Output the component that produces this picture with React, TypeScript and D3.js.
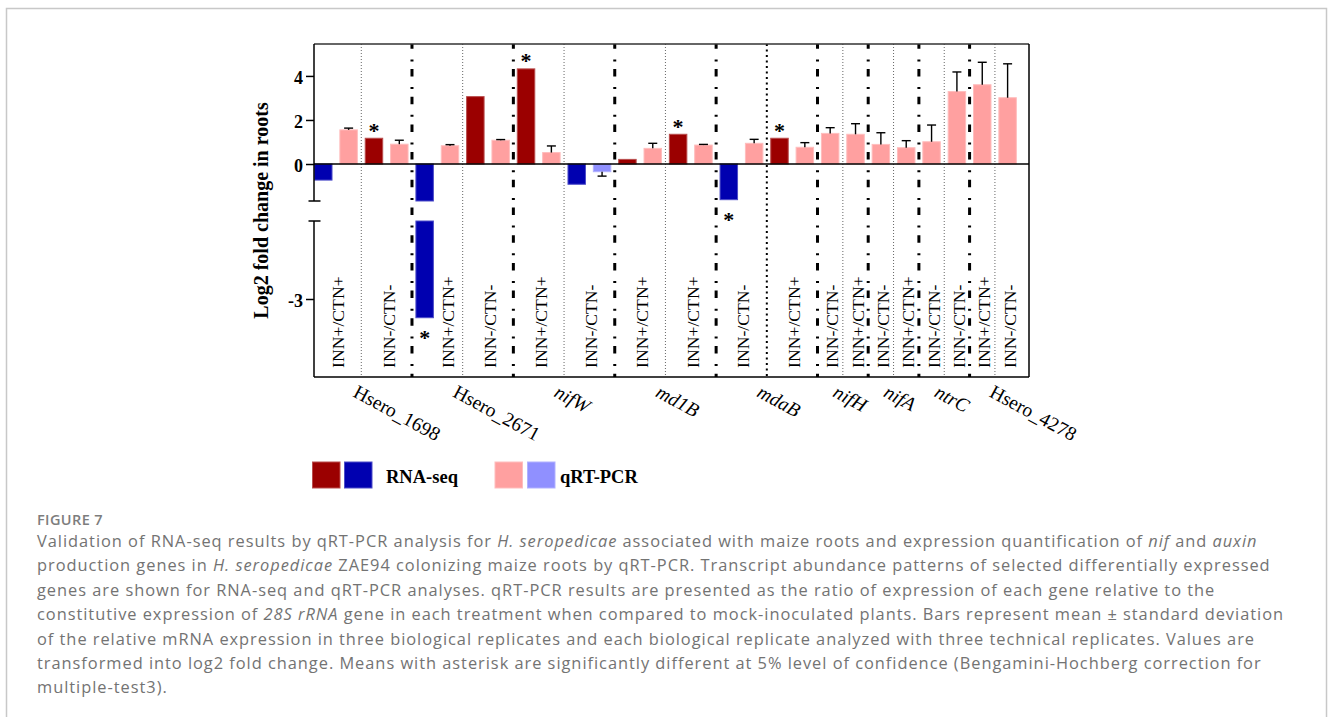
import { useEffect, useRef } from 'react'
import * as d3 from 'd3'

// gene groups along the x axis
const genes = ['Hsero_1698', 'Hsero_2671', 'nifW', 'md1B', 'mdaB', 'nifH', 'nifA', 'ntrC', 'Hsero_4278']
const geneItalic = [false, false, true, true, true, true, true, true, false]

// treatment labels for each gene
const treatments = [
  ['INN+/CTN+', 'INN-/CTN-'],
  ['INN+/CTN+', 'INN-/CTN-'],
  ['INN+/CTN+', 'INN-/CTN-'],
  ['INN+/CTN+', 'INN+/CTN+'],
  ['INN-/CTN-', 'INN+/CTN+'],
  ['INN-/CTN-', 'INN+/CTN+'],
  ['INN-/CTN-', 'INN+/CTN+'],
  ['INN-/CTN-', 'INN-/CTN-'],
  ['INN+/CTN+', 'INN-/CTN-'],
]

// log2 fold change, one entry per treatment (null = no RNA-seq value)
const rnaSeq = [-0.73, 1.17, -3.24, 3.06, 4.32, -0.92, 0.21, 1.35, -1.62, 1.17, null, null, null, null, null, null, null, null]
const rnaSeqSig = [false, true, true, false, true, false, false, true, true, true, false, false, false, false, false, false, false, false]
const qpcr = [1.55, 0.9, 0.83, 1.08, 0.52, -0.35, 0.71, 0.86, 0.94, 0.76, 1.39, 1.35, 0.89, 0.74, 1.01, 3.29, 3.6, 3.01]
const qpcrSd = [0.08, 0.18, 0.05, 0.03, 0.3, 0.2, 0.23, 0.03, 0.18, 0.21, 0.26, 0.48, 0.53, 0.32, 0.76, 0.89, 1.02, 1.54]

const yTicksTop = [0, 2, 4]
const yTicksBottom = [-3]

const caption: [string, boolean][][] = [
  [['Validation of RNA-seq results by qRT-PCR analysis for ', false], ['H. seropedicae', true], [' associated with maize roots and expression quantification of ', false], ['nif', true], [' and ', false], ['auxin', true]],
  [['production genes in ', false], ['H. seropedicae', true], [' ZAE94 colonizing maize roots by qRT-PCR. Transcript abundance patterns of selected differentially expressed', false]],
  [['genes are shown for RNA-seq and qRT-PCR analyses. qRT-PCR results are presented as the ratio of expression of each gene relative to the', false]],
  [['constitutive expression of ', false], ['28S rRNA', true], [' gene in each treatment when compared to mock-inoculated plants. Bars represent mean \u00b1 standard deviation', false]],
  [['of the relative mRNA expression in three biological replicates and each biological replicate analyzed with three technical replicates. Values are', false]],
  [['transformed into log2 fold change. Means with asterisk are significantly different at 5% level of confidence (Bengamini-Hochberg correction for', false]],
  [['multiple-test3).', false]],
]

const COLORS = { rnaUp: '#9b0000', rnaDown: '#0000b0', qUp: '#ffa0a0', qDown: '#9090ff' }
const SERIF = '"Liberation Serif", "Times New Roman", serif'
const SANS = '"Open Sans", "Noto Sans", sans-serif'

export default function App() {
  const ref = useRef<SVGSVGElement>(null)

  useEffect(() => {
    if (!ref.current) return
    const svg = d3.select(ref.current)
    svg.selectAll('*').remove()

    const plot = { left: 314, right: 1029, top: 44, bottom: 377, breakTop: 201, breakBottom: 221 }

    // figure frame
    svg.append('rect')
      .attr('x', 6.5).attr('y', 8.5).attr('width', 1320).attr('height', 760)
      .attr('fill', 'none').attr('stroke', '#c8c8c8').attr('stroke-width', 1.5)

    // build treatments + bar slots
    type Sub = { gene: number; label: string; rna: number | null; sig: boolean; q: number; sd: number; slots: number[] }
    const subs: Sub[] = []
    let t = 0
    genes.forEach((g, gi) => {
      treatments[gi].forEach(label => {
        subs.push({ gene: gi, label, rna: rnaSeq[t], sig: rnaSeqSig[t], q: qpcr[t], sd: qpcrSd[t], slots: [] })
        t++
      })
    })
    type Slot = { sub: number; kind: 'rna' | 'q'; v: number; sd: number; sig: boolean }
    const slots: Slot[] = []
    subs.forEach((s, si) => {
      if (s.rna !== null) {
        s.slots.push(slots.length)
        slots.push({ sub: si, kind: 'rna', v: s.rna, sd: 0, sig: s.sig })
      }
      s.slots.push(slots.length)
      slots.push({ sub: si, kind: 'q', v: s.q, sd: s.sd, sig: false })
    })

    const x = d3.scaleBand<number>()
      .domain(d3.range(slots.length))
      .range([plot.left, plot.right])
      .paddingInner(0.31)
      .paddingOuter(0.26)
      .align(0.04)
    const bw = x.bandwidth()
    const cx = (i: number) => (x(i) as number) + bw / 2

    const yTop = d3.scaleLinear().domain([-1.68, 5.45]).range([plot.breakTop, plot.top])
    const yBot = d3.scaleLinear().domain([-4, -2]).range([plot.bottom, plot.breakBottom])
    const topMin = yTop.domain()[0]
    const yAny = (v: number) => (v >= topMin ? yTop(v) : yBot(v))

    // dividers between treatments
    const divs: { x: number; gene: boolean; heavy: boolean }[] = []
    for (let i = 0; i < subs.length - 1; i++) {
      const a = subs[i], b = subs[i + 1]
      const xm = ((x(a.slots[a.slots.length - 1]) as number) + bw + (x(b.slots[0]) as number)) / 2
      divs.push({ x: xm, gene: a.gene !== b.gene, heavy: a.gene === b.gene && genes[a.gene] === 'mdaB' })
    }

    const divG = svg.append('g')
    divs.forEach(d => {
      const l = divG.append('line')
        .attr('x1', d.x).attr('x2', d.x).attr('y1', plot.top).attr('y2', plot.bottom)
      if (d.gene) {
        l.attr('stroke', '#000').attr('stroke-width', 3).attr('stroke-dasharray', '7.5 10.6 2 7.6').attr('stroke-dashoffset', 2.7)
      } else if (d.heavy) {
        l.attr('stroke', '#000').attr('stroke-width', 2).attr('stroke-dasharray', '2 3.5')
      } else {
        l.attr('stroke', '#666').attr('stroke-width', 1).attr('stroke-dasharray', '1 2')
      }
    })

    // bars
    const barColor = (s: Slot) => s.kind === 'rna'
      ? (s.v >= 0 ? COLORS.rnaUp : COLORS.rnaDown)
      : (s.v >= 0 ? COLORS.qUp : COLORS.qDown)
    const segs = (v: number): [number, number][] => {
      if (v >= topMin) return [[yTop(Math.max(v, 0)), yTop(Math.min(v, 0))]]
      return [[yTop(0), plot.breakTop], [plot.breakBottom, yBot(v)]]
    }
    const barG = svg.append('g')
    slots.forEach((s, i) => {
      const c = barColor(s)
      segs(s.v).forEach(([y1, y2]) => {
        barG.append('rect')
          .attr('x', x(i) as number).attr('y', y1)
          .attr('width', bw).attr('height', Math.max(0, y2 - y1))
          .attr('fill', c)
          .attr('stroke', d3.interpolateRgb(c, '#fff')(0.3))
          .attr('stroke-width', 1)
      })
    })

    // error bars (one-sided, away from zero)
    const errG = svg.append('g').attr('stroke', '#000').attr('stroke-width', 1.4)
    slots.forEach((s, i) => {
      if (!s.sd) return
      const end = s.v + Math.sign(s.v) * s.sd
      errG.append('line').attr('x1', cx(i)).attr('x2', cx(i)).attr('y1', yTop(s.v)).attr('y2', yTop(end))
      errG.append('line').attr('x1', cx(i) - 4.5).attr('x2', cx(i) + 4.5).attr('y1', yTop(end)).attr('y2', yTop(end))
    })

    // significance stars
    slots.forEach((s, i) => {
      if (!s.sig) return
      const yb = s.v > 0 ? yAny(s.v) - 0.5 : yAny(s.v) + 27
      svg.append('text')
        .attr('x', cx(i)).attr('y', yb)
        .attr('text-anchor', 'middle')
        .style('font-family', SERIF).style('font-weight', 'bold').style('font-size', '22px')
        .text('*')
    })

    // frame + broken y axis
    const frame = svg.append('g').attr('stroke', '#000').attr('stroke-width', 1.5).attr('fill', 'none')
    frame.append('line').attr('x1', plot.left).attr('x2', plot.right).attr('y1', plot.top).attr('y2', plot.top).attr('stroke', '#333')
    frame.append('line').attr('x1', plot.right).attr('x2', plot.right).attr('y1', plot.top).attr('y2', plot.bottom)
    frame.append('line').attr('x1', plot.left).attr('x2', plot.right).attr('y1', plot.bottom).attr('y2', plot.bottom)
    frame.append('line').attr('x1', plot.left).attr('x2', plot.right).attr('y1', yTop(0)).attr('y2', yTop(0))
    frame.append('line').attr('x1', plot.left).attr('x2', plot.left).attr('y1', plot.top).attr('y2', plot.breakTop)
    frame.append('line').attr('x1', plot.left).attr('x2', plot.left).attr('y1', plot.breakBottom).attr('y2', plot.bottom)
    frame.append('line').attr('x1', plot.left - 5.5).attr('x2', plot.left + 6.5).attr('y1', plot.breakTop).attr('y2', plot.breakTop)
    frame.append('line').attr('x1', plot.left - 5.5).attr('x2', plot.left + 6.5).attr('y1', plot.breakBottom).attr('y2', plot.breakBottom)

    const styleAxis = (g: d3.Selection<SVGGElement, unknown, null, undefined>) => {
      g.select('.domain').remove()
      g.selectAll('line').attr('stroke', '#000').attr('stroke-width', 1.5)
      g.selectAll('text')
        .attr('dy', '0.42em')
        .style('font-family', SERIF).style('font-weight', 'bold').style('font-size', '18px').attr('fill', '#000')
    }
    const fmt = (d: d3.NumberValue) => String(d)
    svg.append('g').attr('transform', `translate(${plot.left},0)`)
      .call(d3.axisLeft(yTop).tickValues(yTicksTop).tickFormat(fmt).tickSize(8).tickPadding(3))
      .call(styleAxis)
    svg.append('g').attr('transform', `translate(${plot.left},0)`)
      .call(d3.axisLeft(yBot).tickValues(yTicksBottom).tickFormat(fmt).tickSize(8).tickPadding(3))
      .call(styleAxis)

    // y title
    svg.append('text')
      .attr('transform', `translate(268,${(plot.top + plot.bottom) / 2}) rotate(-90)`)
      .attr('text-anchor', 'middle')
      .style('font-family', SERIF).style('font-weight', 'bold').style('font-size', '20px')
      .text('Log2 fold change in roots')

    // treatment labels inside the plot
    subs.forEach(s => {
      const deep = s.rna !== null && s.rna < topMin
      const lx = deep ? cx(s.slots[s.slots.length - 1]) - 1.5 : d3.mean(s.slots, cx)! + 2
      svg.append('text')
        .attr('transform', `translate(${lx},368) rotate(-90)`)
        .attr('dominant-baseline', 'central')
        .style('font-family', SERIF).style('font-size', '17.7px')
        .text(s.label)
    })

    // gene labels under the axis
    genes.forEach((g, gi) => {
      const mine = subs.filter(s => s.gene === gi)
      const first = mine[0].slots[0]
      const lastSub = mine[mine.length - 1]
      const last = lastSub.slots[lastSub.slots.length - 1]
      const gap = x.step() - bw
      const left = gi === 0 ? plot.left : (x(first) as number) - gap / 2
      const right = gi === genes.length - 1 ? plot.right : (x(last) as number) + bw + gap / 2
      const gc = (left + right) / 2
      svg.append('text')
        .attr('transform', `translate(${gc - 11},396) rotate(28.5)`)
        .style('font-family', SERIF).style('font-size', '19.5px')
        .style('font-style', geneItalic[gi] ? 'italic' : 'normal')
        .text(g)
    })

    // legend
    const leg = svg.append('g')
    const sw = (lx: number, c: string) => leg.append('rect')
      .attr('x', lx).attr('y', 462).attr('width', 27.5).attr('height', 26)
      .attr('fill', c).attr('stroke', d3.interpolateRgb(c, '#fff')(0.3)).attr('stroke-width', 1)
    sw(312.5, COLORS.rnaUp)
    sw(344.5, COLORS.rnaDown)
    sw(495, COLORS.qUp)
    sw(527.5, COLORS.qDown)
    leg.append('text').attr('x', 386).attr('y', 483)
      .style('font-family', SERIF).style('font-weight', 'bold').style('font-size', '18.5px').text('RNA-seq')
    leg.append('text').attr('x', 560).attr('y', 483)
      .style('font-family', SERIF).style('font-weight', 'bold').style('font-size', '18.5px').text('qRT-PCR')

    // caption
    svg.append('text').attr('x', 37).attr('y', 525)
      .style('font-family', SANS).style('font-size', '14.5px').style('font-weight', 600)
      .style('letter-spacing', '0.4px')
      .attr('fill', '#7d7d7d').text('FIGURE 7')
    caption.forEach((line, li) => {
      const tx = svg.append('text').attr('x', 37).attr('y', 547 + li * 24.4)
        .style('font-family', SANS).style('font-size', '16.4px').style('letter-spacing', '0.97px')
        .attr('fill', '#737373')
      line.forEach(([str, it]) => {
        tx.append('tspan').style('font-style', it ? 'italic' : 'normal').text(str)
      })
    })
  }, [])

  return (
    <svg
      ref={ref}
      width={1330}
      height={717}
      style={{ position: 'absolute', left: 0, top: 0, background: '#fff' }}
    />
  )
}
